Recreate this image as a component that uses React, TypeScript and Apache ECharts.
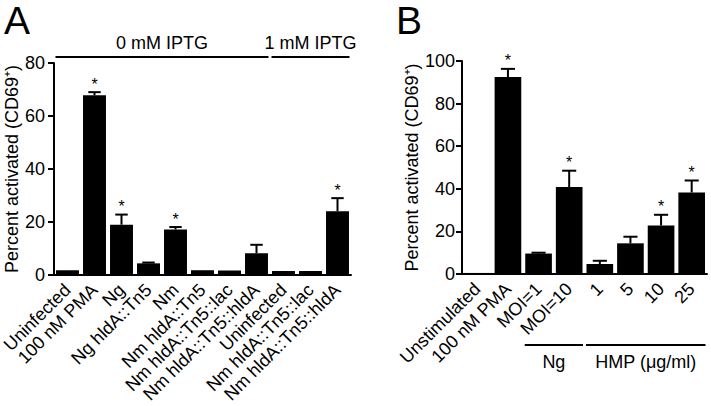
import React, { useEffect, useRef } from "react";
import * as echarts from "echarts";

const FONT = "'Liberation Sans', Arial, Helvetica, sans-serif";
const FS = 18;

// Panel A
const catsA = [
  "Uninfected",
  "100 nM PMA",
  "Ng",
  "Ng hldA::Tn5",
  "Nm",
  "Nm hldA::Tn5",
  "Nm hldA::Tn5::lac",
  "Nm hldA::Tn5::hldA",
  "Uninfected",
  "Nm hldA::Tn5::lac",
  "Nm hldA::Tn5::hldA",
];
const valsA = [1.8, 67.8, 19.0, 4.4, 17.2, 1.8, 1.7, 8.2, 1.5, 1.5, 24.1];
const errA = [0, 1.2, 3.8, 0.3, 0.9, 0, 0, 3.2, 0, 0, 4.9];
const sigA = [0, 1, 1, 0, 1, 0, 0, 0, 0, 0, 1];
const ticksA = [0, 20, 40, 60, 80];
const groupsA = [
  { label: "0 mM IPTG", from: 0, to: 7 },
  { label: "1 mM IPTG", from: 8, to: 10 },
];

// Panel B
const catsB = ["Unstimulated", "100 nM PMA", "MOI=1", "MOI=10", "1", "5", "10", "25"];
const valsB = [0.5, 92.5, 9.6, 40.8, 4.7, 14.4, 22.8, 38.3];
const errB = [0, 3.8, 0.4, 7.7, 1.5, 3.1, 5.0, 5.6];
const sigB = [0, 1, 0, 1, 0, 0, 1, 1];
const ticksB = [0, 20, 40, 60, 80, 100];
const groupsB = [
  { label: "Ng", from: 2, to: 3 },
  { label: "HMP (μg/ml)", from: 4, to: 7 },
];

const yName = "Percent activated (CD69⁺)";

function errRender(params: any, api: any) {
  const i = api.value(0);
  const v = api.value(1);
  const e = api.value(2);
  const s = api.value(3);
  const base = api.coord([i, v]);
  const top = api.coord([i, v + e]);
  const bw = api.size([1, 0])[0];
  const capHalf = bw * 0.23;
  const children: any[] = [];
  if (e > 0) {
    children.push({
      type: "line",
      shape: { x1: top[0], y1: base[1], x2: top[0], y2: top[1] },
      style: { stroke: "#000", lineWidth: 2 },
    });
    children.push({
      type: "line",
      shape: { x1: top[0] - capHalf, y1: top[1], x2: top[0] + capHalf, y2: top[1] },
      style: { stroke: "#000", lineWidth: 2 },
    });
  }
  if (s) {
    children.push({
      type: "text",
      x: top[0],
      y: top[1],
      style: {
        text: "*",
        fontSize: 16,
        fontFamily: FONT,
        fill: "#000",
        align: "center",
        verticalAlign: "bottom",
      },
    });
  }
  return { type: "group", children };
}

function makeBracketRender(groups: any[], mode: "top" | "bottom", refVal: number) {
  return (params: any, api: any) => {
    const g = groups[params.dataIndex];
    const bw = api.size([1, 0])[0];
    const p1 = api.coord([g.from, refVal]);
    const p2 = api.coord([g.to, refVal]);
    const x1 = p1[0] - bw / 2 + 1.5;
    const x2 = p2[0] + bw / 2 - 1.5;
    const y = mode === "top" ? p1[1] - 6 : p1[1] + 71;
    const ty = mode === "top" ? y - 14 : y + 8;
    return {
      type: "group",
      children: [
        {
          type: "line",
          shape: { x1, y1: y, x2, y2: y },
          style: { stroke: "#000", lineWidth: 2 },
        },
        {
          type: "text",
          x: (x1 + x2) / 2,
          y: ty,
          style: {
            text: g.label,
            fontSize: FS,
            fontFamily: FONT,
            fill: "#000",
            align: "center",
            verticalAlign: mode === "top" ? "middle" : "top",
          },
        },
      ],
    };
  };
}

function xAxisFor(cats: string[], gridIndex: number) {
  return {
    type: "category",
    gridIndex,
    data: cats.map((_, i) => String(i)),
    axisLine: { lineStyle: { color: "#000", width: 2 } },
    axisTick: { alignWithLabel: true, interval: 0, length: 6, lineStyle: { color: "#000", width: 2 } },
    axisLabel: {
      interval: 0,
      rotate: 45,
      margin: 12,
      fontSize: FS,
      fontFamily: FONT,
      color: "#000",
      formatter: (_v: string, idx: number) => cats[idx],
    },
    splitLine: { show: false },
  };
}

function yAxisFor(ticks: number[], gridIndex: number, nameGap: number, margin: number) {
  return {
    type: "value",
    gridIndex,
    min: ticks[0],
    max: ticks[ticks.length - 1],
    interval: ticks[1] - ticks[0],
    name: yName,
    nameLocation: "middle",
    nameGap,
    nameTextStyle: { fontSize: FS, fontFamily: FONT, color: "#000" },
    axisLine: { show: true, lineStyle: { color: "#000", width: 2 } },
    axisTick: { show: true, length: 6, lineStyle: { color: "#000", width: 2 } },
    axisLabel: { fontSize: FS, fontFamily: FONT, color: "#000", margin },
    splitLine: { show: false },
  };
}

export default function App() {
  const ref = useRef<HTMLDivElement>(null);
  useEffect(() => {
    if (!ref.current) return;
    const chart = echarts.init(ref.current, undefined, { renderer: "svg" });
    chart.setOption({
      animation: false,
      backgroundColor: "#fff",
      textStyle: { fontFamily: FONT },
      grid: [
        { left: 54, top: 63, right: 360, bottom: 131, outerBoundsMode: "none", containLabel: false },
        { left: 462, top: 61, right: 4, bottom: 132, outerBoundsMode: "none", containLabel: false },
      ],
      xAxis: [xAxisFor(catsA, 0), xAxisFor(catsB, 1)],
      yAxis: [yAxisFor(ticksA, 0, 26, 9), yAxisFor(ticksB, 1, 33, 7)],
      graphic: [
        { type: "text", left: 4, top: 1, style: { text: "A", fontSize: 39, fontFamily: FONT, fill: "#000" } },
        { type: "text", left: 396, top: 1, style: { text: "B", fontSize: 39, fontFamily: FONT, fill: "#000" } },
      ],
      series: [
        {
          type: "bar",
          xAxisIndex: 0,
          yAxisIndex: 0,
          data: valsA,
          barWidth: "85%",
          itemStyle: { color: "#000" },
        },
        {
          type: "custom",
          xAxisIndex: 0,
          yAxisIndex: 0,
          data: valsA.map((v, i) => [i, v, errA[i], sigA[i]]),
          encode: { x: 0, y: 1 },
          renderItem: errRender,
          z: 5,
        },
        {
          type: "custom",
          xAxisIndex: 0,
          yAxisIndex: 0,
          data: groupsA.map((g) => [g.from, 0]),
          encode: { x: 0, y: 1 },
          renderItem: makeBracketRender(groupsA, "top", ticksA[ticksA.length - 1]),
          clip: false,
        },
        {
          type: "bar",
          xAxisIndex: 1,
          yAxisIndex: 1,
          data: valsB,
          barWidth: "87%",
          itemStyle: { color: "#000" },
        },
        {
          type: "custom",
          xAxisIndex: 1,
          yAxisIndex: 1,
          data: valsB.map((v, i) => [i, v, errB[i], sigB[i]]),
          encode: { x: 0, y: 1 },
          renderItem: errRender,
          z: 5,
        },
        {
          type: "custom",
          xAxisIndex: 1,
          yAxisIndex: 1,
          data: groupsB.map((g) => [g.from, 0]),
          encode: { x: 0, y: 1 },
          renderItem: makeBracketRender(groupsB, "bottom", 0),
          clip: false,
        },
      ],
    });
    return () => chart.dispose();
  }, []);
  return (
    <div
      ref={ref}
      style={{ position: "fixed", left: 0, top: 0, width: 711, height: 406, background: "#fff" }}
    />
  );
}
